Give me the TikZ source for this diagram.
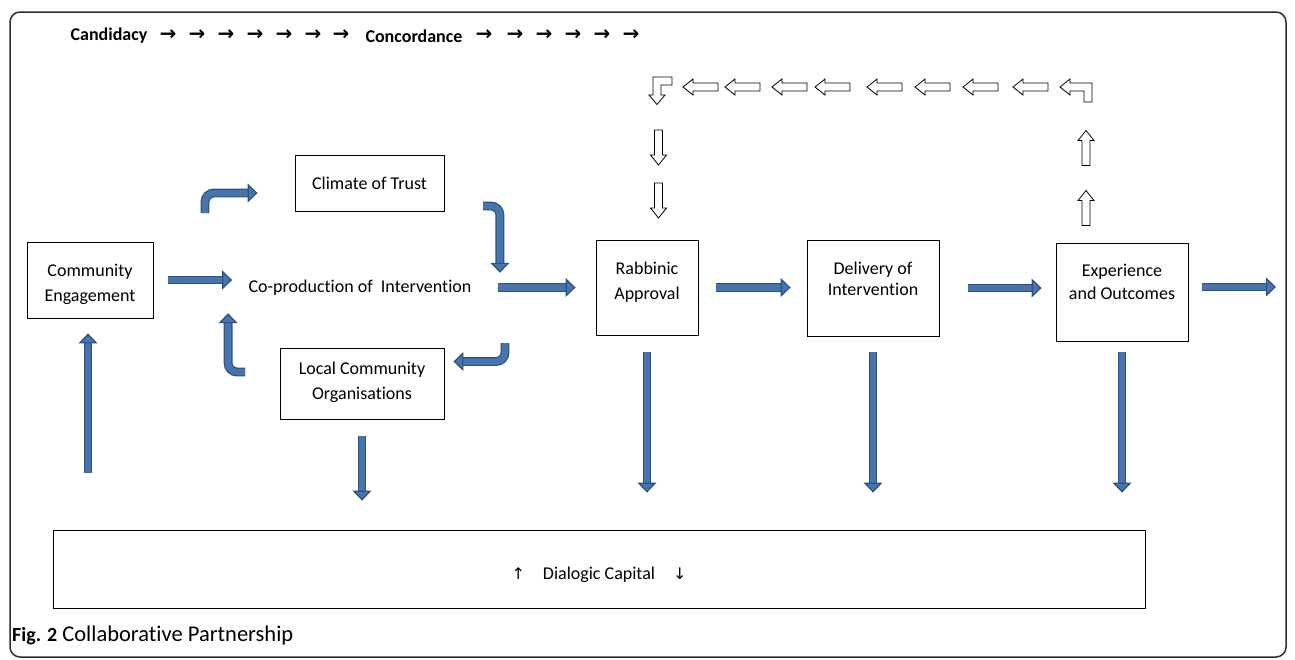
\documentclass[tikz,border=0pt]{standalone}
\usepackage{fontspec}
\setmainfont{Carlito}[Ligatures=NoCommon]
\newfontfamily\symfont{DejaVu Sans}
\usetikzlibrary{arrows.meta,calc}

\definecolor{arrowblue}{RGB}{72,116,172}
\definecolor{arrowedge}{RGB}{44,80,128}
\definecolor{framegray}{RGB}{45,45,45}

\tikzset{
  box/.style={draw, line width=0.9pt, align=center},
  boxtext/.style={align=center, anchor=center},
  toparrow/.style={font=\fontsize{20}{22}\bfseries\symfont},
  blockarrow/.style={draw=arrowedge, line width=1.2pt, double=arrowblue, double distance=6.5pt,
    -{Triangle[width=19pt,length=10pt,fill=arrowblue]}},
  hollow/.style={draw, fill=white, line width=0.8pt, line join=miter},
  pics/hollowarr/.style={code={
    \draw[hollow] (-17.5,-4) -- (7.5,-4) -- (7.5,-8) -- (17.5,0) -- (7.5,8) -- (7.5,4) -- (-17.5,4) -- cycle;
  }}
}

\begin{document}
\begin{tikzpicture}[x=1pt, y=-1pt, font=\fontsize{18}{25}\selectfont]
\useasboundingbox (0,0) rectangle (1295,659);
\draw[framegray, line width=1.5pt, rounded corners=10pt] (10,12) rectangle (1286,657);

% top line
\node[font=\fontsize{18}{22}\bfseries] (cand) at (109,36) {Candidacy};
\node[font=\fontsize{18}{22}\bfseries] (conc) at (414,36) {Concordance};
\node[toparrow] at (168,35) {→};
\node[toparrow] at (197,35) {→};
\node[toparrow] at (226,35) {→};
\node[toparrow] at (255,35) {→};
\node[toparrow] at (284,35) {→};
\node[toparrow] at (313,35) {→};
\node[toparrow] at (341,35) {→};
\node[toparrow] at (484,35) {→};
\node[toparrow] at (515,35) {→};
\node[toparrow] at (544,35) {→};
\node[toparrow] at (573,35) {→};
\node[toparrow] at (602,35) {→};
\node[toparrow] at (631,35) {→};

% boxes
\node[box, minimum width=126, minimum height=76,
  label={[boxtext, yshift=-4pt]center:{Community\\Engagement}}] (eng) at (90,280) {};
\node[box, minimum width=149, minimum height=56] (trust) at (369.5,183) {Climate of Trust};
\node (coprod) at (360,288) {Co-production of~ Intervention};
\node[box, minimum width=164, minimum height=71,
  label={[boxtext, yshift=1pt]center:{Local Community\\Organisations}}] (local) at (362,383.5) {};
\node[box, minimum width=102, minimum height=95,
  label={[boxtext, anchor=north, yshift=-19pt]north:{Rabbinic\\Approval}}] (rab) at (647,287.5) {};
\node[box, minimum width=132, minimum height=96,
  label={[boxtext, anchor=north, yshift=-19pt, font=\fontsize{18}{21}\selectfont]north:{Delivery of\\Intervention}}] (deliv) at (873,288) {};
\node[box, minimum width=132, minimum height=98,
  label={[boxtext, anchor=north, yshift=-18pt, font=\fontsize{18}{23}\selectfont]north:{Experience\\and Outcomes}}] (exper) at (1122,292) {};
\node[box, minimum width=1092, minimum height=78,
  label={[boxtext, yshift=-6pt]center:{{\symfont\fontsize{16}{18}\selectfont ↑}\quad Dialogic Capital\quad{\symfont\fontsize{16}{18}\selectfont ↓}}}] (dial) at (599,569) {};
\coordinate (out) at (1276,287);

% blue arrows
\draw[blockarrow, shorten <=15pt, shorten >=13pt] (eng.east) -- (eng.east -| coprod.west);
\draw[blockarrow, shorten <=23pt, shorten >=20pt] (rab.west -| coprod.east) -- (rab.west);
\draw[blockarrow, shorten <=18pt, shorten >=16pt] (rab.east) -- (rab.east -| deliv.west);
\draw[blockarrow, shorten <=29pt, shorten >=14pt] (deliv.east) -- (deliv.east -| exper.west);
\draw[blockarrow, shorten <=14pt] (exper.east |- out) -- (out);
\draw[blockarrow, shorten <=57pt, shorten >=15pt] ([xshift=-2pt]eng.south |- dial.north) -- ([xshift=-2pt]eng.south);
\draw[blockarrow, shorten <=17pt, shorten >=29pt] (local.south) -- (local.south |- dial.north);
\draw[blockarrow, shorten <=17pt, shorten >=37pt] (rab.south) -- (rab.south |- dial.north);
\draw[blockarrow, shorten <=16pt, shorten >=37pt] (deliv.south) -- (deliv.south |- dial.north);
\draw[blockarrow, shorten <=11pt, shorten >=37pt] (exper.south) -- (exper.south |- dial.north);

% bent arrows round the co-production
\coordinate (b1) at (205,213);
\coordinate (b2) at (483,206);
\coordinate (b3) at (505,343);
\coordinate (b4) at (245,372);
\draw[blockarrow, rounded corners=9pt] (b1) |- ($(trust.west)+(-37,10)$);
\draw[blockarrow, rounded corners=9pt] (b2) -| ($(coprod.north east)+(25,-4)$);
\draw[blockarrow, rounded corners=9pt] (b3) |- ($(local.east)+(9,-22)$);
\draw[blockarrow, rounded corners=9pt] (b4) -| ($(coprod.south west)+(-17,14)$);

% feedback loop of open arrows
\draw[hollow] (1060,87) -- (1070,79) -- (1070,83) -- (1092,83) -- (1092,102) -- (1084,102)
  -- (1084,91) -- (1070,91) -- (1070,95) -- cycle;
\pic[rotate=180] at (1030.5,87) {hollowarr};
\pic[rotate=180] at (980.5,87) {hollowarr};
\pic[rotate=180] at (932.5,87) {hollowarr};
\pic[rotate=180] at (884.5,87) {hollowarr};
\pic[rotate=180] at (832.5,87) {hollowarr};
\pic[rotate=180] at (789.5,87) {hollowarr};
\pic[rotate=180] at (742.5,87) {hollowarr};
\pic[rotate=180] at (700.5,87) {hollowarr};
\draw[hollow] (672,77) -- (672,85) -- (661,85) -- (661,95) -- (665,95) -- (657,104.5)
  -- (649,95) -- (653,95) -- (653,77) -- cycle;
\pic[rotate=-90] at (658.5,147.5) {hollowarr};
\pic[rotate=-90] at (658.5,200.5) {hollowarr};
\pic[rotate=90] at (1086,148) {hollowarr};
\pic[rotate=90] at (1086,208) {hollowarr};

% caption
\node[anchor=west, inner sep=0pt, font=\fontsize{22.5}{26}\selectfont] (cap) at (12,635) {{\fontsize{20}{24}\bfseries Fig. 2} Collaborative Partnership};
\end{tikzpicture}
\end{document}
